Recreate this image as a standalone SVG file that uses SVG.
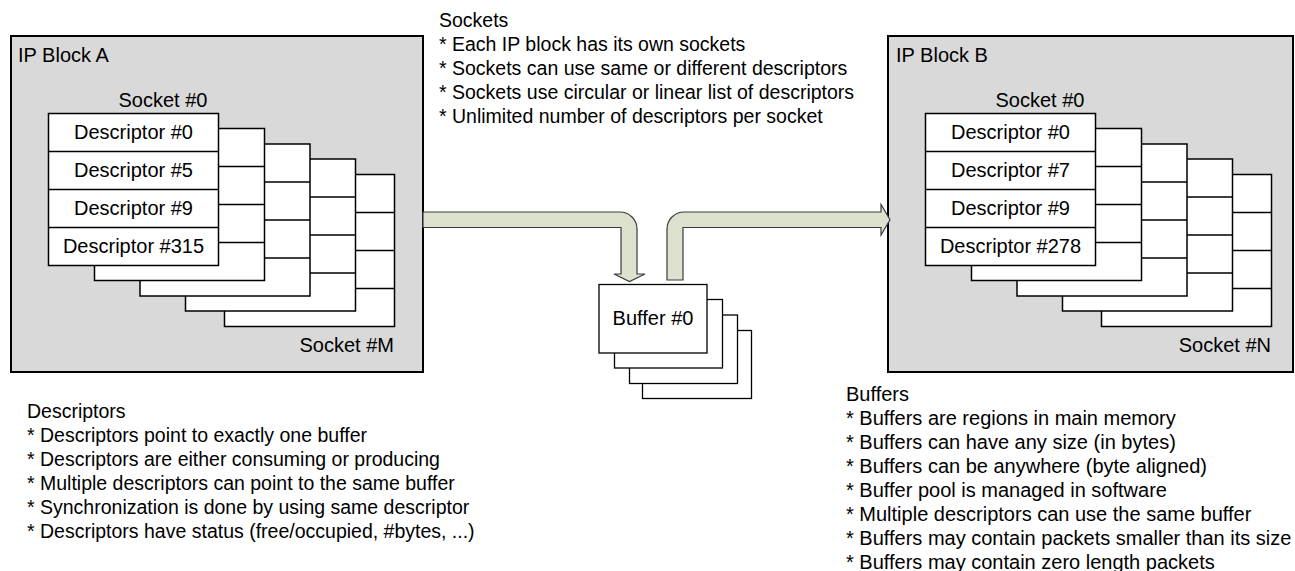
<svg xmlns="http://www.w3.org/2000/svg" width="1295" height="571" viewBox="0 0 1295 571">
<style>
text{font-family:"Liberation Sans",Arial,sans-serif;fill:#000}
.lbl{font-size:20px}
.note{font-size:19.5px}
.noteb{font-size:20px}
.blk{fill:#d9d9d9;stroke:#000;stroke-width:2}
.lay{fill:#fff;stroke:#000;stroke-width:1.5}
.row{stroke:#000;stroke-width:1.5}
.buf{fill:#fff;stroke:#000;stroke-width:1.3}
.arr{fill:#dde2cf;stroke:#3a3a3a;stroke-width:1.2;stroke-linejoin:miter}
</style>
<defs>
<g id="layer">
<rect class="lay" x="0" y="0" width="170" height="152"/>
<path class="row" d="M0 38H170M0 76H170M0 114H170"/>
</g>
</defs>
<g id="blockA">
<rect class="blk" x="11" y="36" width="412" height="336"/>
<text class="lbl" x="18" y="62">IP Block A</text>
<text class="lbl" x="163" y="107" text-anchor="middle">Socket #0</text>
<use href="#layer" x="224.5" y="174.5"/>
<use href="#layer" x="185.5" y="159"/>
<use href="#layer" x="140" y="144"/>
<use href="#layer" x="94.5" y="128.5"/>
<use href="#layer" x="48.5" y="113.5"/>
<text class="lbl" x="133.5" y="139" text-anchor="middle">Descriptor #0</text>
<text class="lbl" x="133.5" y="177" text-anchor="middle">Descriptor #5</text>
<text class="lbl" x="133.5" y="215" text-anchor="middle">Descriptor #9</text>
<text class="lbl" x="133.5" y="253" text-anchor="middle">Descriptor #315</text>
<text class="lbl" x="394" y="352" text-anchor="end">Socket #M</text>
</g>
<g id="blockB">
<rect class="blk" x="888" y="36" width="405" height="336"/>
<text class="lbl" x="896" y="62">IP Block B</text>
<text class="lbl" x="1040" y="107" text-anchor="middle">Socket #0</text>
<use href="#layer" x="1101.5" y="174.5"/>
<use href="#layer" x="1062.5" y="159"/>
<use href="#layer" x="1017" y="144"/>
<use href="#layer" x="971.5" y="128.5"/>
<use href="#layer" x="925.5" y="113.5"/>
<text class="lbl" x="1010.5" y="139" text-anchor="middle">Descriptor #0</text>
<text class="lbl" x="1010.5" y="177" text-anchor="middle">Descriptor #7</text>
<text class="lbl" x="1010.5" y="215" text-anchor="middle">Descriptor #9</text>
<text class="lbl" x="1010.5" y="253" text-anchor="middle">Descriptor #278</text>
<text class="lbl" x="1271" y="352" text-anchor="end">Socket #N</text>
</g>
<g id="connectors">
<path class="arr" d="M423 212H620A17 17 0 0 1 637 229V274H645L629.5 281.5L614 274H621V227.5H423Z"/>
<path class="arr" d="M667 280V229A17 17 0 0 1 684 212H881V204.5L890 219.8L881 235V227.5H683V280Z"/>
</g>
<g id="buffers">
<rect class="buf" x="642.5" y="330.5" width="109" height="68"/>
<rect class="buf" x="629.5" y="315" width="108" height="68.5"/>
<rect class="buf" x="614.5" y="299.5" width="108" height="68.5"/>
<rect class="buf" x="599" y="284.5" width="108" height="68.5"/>
<text class="lbl" x="653" y="324.5" text-anchor="middle">Buffer #0</text>
</g>
<g id="notes">
<text class="note" x="439"><tspan x="439" y="27">Sockets</tspan><tspan x="439" y="51">* Each IP block has its own sockets</tspan><tspan x="439" y="75">* Sockets can use same or different descriptors</tspan><tspan x="439" y="99">* Sockets use circular or linear list of descriptors</tspan><tspan x="439" y="123">* Unlimited number of descriptors per socket</tspan></text>
<text class="note" x="27"><tspan x="27" y="418">Descriptors</tspan><tspan x="27" y="442">* Descriptors point to exactly one buffer</tspan><tspan x="27" y="466">* Descriptors are either consuming or producing</tspan><tspan x="27" y="490">* Multiple descriptors can point to the same buffer</tspan><tspan x="27" y="514">* Synchronization is done by using same descriptor</tspan><tspan x="27" y="538">* Descriptors have status (free/occupied, #bytes, ...)</tspan></text>
<text class="noteb" x="846"><tspan x="846" y="401">Buffers</tspan><tspan x="846" y="425">* Buffers are regions in main memory</tspan><tspan x="846" y="449">* Buffers can have any size (in bytes)</tspan><tspan x="846" y="473">* Buffers can be anywhere (byte aligned)</tspan><tspan x="846" y="497">* Buffer pool is managed in software</tspan><tspan x="846" y="521">* Multiple descriptors can use the same buffer</tspan><tspan x="846" y="545">* Buffers may contain packets smaller than its size</tspan><tspan x="846" y="569">* Buffers may contain zero length packets</tspan></text>
</g>
</svg>
